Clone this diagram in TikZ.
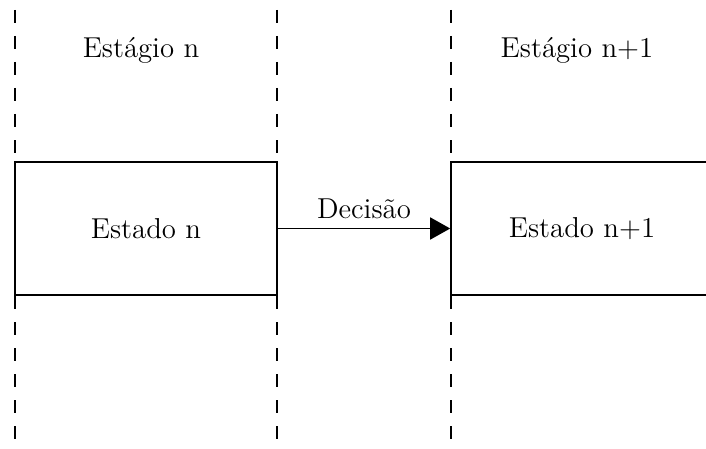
\documentclass[tikz,border=0pt]{standalone}
\usepackage{fontspec}
\usetikzlibrary{arrows.meta}

\begin{document}
\begin{tikzpicture}[x = 0.5pt, y = -0.5pt, line width = 0.8pt,
                    every node/.style = {font = \fontsize{14.4}{17}\selectfont},
                    stage/.style = {draw, dash pattern = on 6.5pt off 6.5pt},
                    state/.style = {rectangle, draw, fill = white, inner sep = 0pt,
                                    minimum width = 131pt, minimum height = 66.5pt},
                    decision/.style = {-{Triangle[length = 10pt, width = 11pt]}}]

\useasboundingbox (0,0) rectangle (706,449);

% stage boundaries
\draw[stage] (15,10) -- (15,449);
\draw[stage] (277,10) -- (277,449);
\draw[stage] (451,10) -- (451,449);

% stages
\node (stageN) at (141,50) {Estágio n};
\node (stageNext) at (577,50) {Estágio n+1};

% states
\node [state] (stateN) at (146,228.5) {Estado n};
\node [state] (stateNext) at (582,228.5) {Estado n+1};

\draw[decision] (stateN) -- node[above = 1pt] {Decisão} (stateNext);

\end{tikzpicture}
\end{document}
